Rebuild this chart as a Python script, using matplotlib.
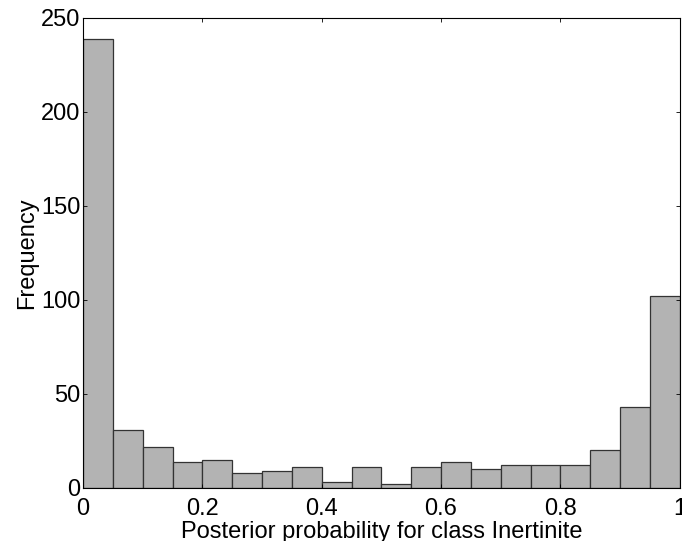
import matplotlib
matplotlib.use("Agg")
import matplotlib.pyplot as plt
import numpy as np

plt.rcParams['font.family'] = ['Liberation Sans', 'DejaVu Sans']

# histogram of posterior probabilities, 20 bins on [0, 1]
bin_edges = np.linspace(0, 1, 21)
counts = [239, 31, 22, 14, 15, 8, 9, 11, 3, 11, 2, 11, 14, 10, 12, 12, 12, 20, 43, 102]
x_ticks = [0, 0.2, 0.4, 0.6, 0.8, 1]
x_tick_labels = ["0", "0.2", "0.4", "0.6", "0.8", "1"]
y_ticks = [0, 50, 100, 150, 200, 250]

fig = plt.figure(figsize=(6.82, 5.41), dpi=100)
ax = fig.add_axes([0.1217, 0.098, 0.875, 0.869])

ax.bar(bin_edges[:-1], counts, width=np.diff(bin_edges), align='edge',
       color='#b3b3b3', edgecolor='#333333', linewidth=0.9)

ax.set_xlim(0, 1)
ax.set_ylim(0, 250)
ax.set_xticks(x_ticks)
ax.set_xticklabels(x_tick_labels)
ax.set_yticks(y_ticks)
ax.tick_params(direction='in', length=3, labelsize=17, width=0.6,
               top=True, right=True)
ax.tick_params(axis='x', pad=7)
ax.tick_params(axis='y', pad=2)
for s in ax.spines.values():
    s.set_linewidth(0.8)

ax.set_xlabel("Posterior probability for class Inertinite", fontsize=17)
ax.xaxis.label.set_va('baseline')
ax.xaxis.set_label_coords(0.5, -0.106)
ax.set_ylabel("Frequency", fontsize=17, labelpad=2)

fig.savefig("out.png", dpi=100)
